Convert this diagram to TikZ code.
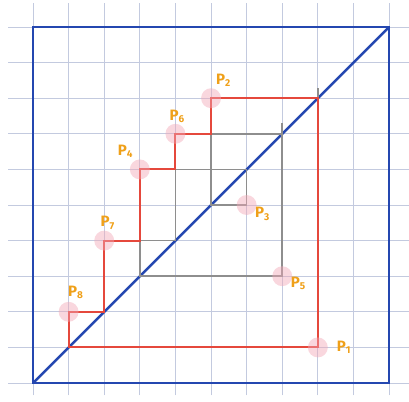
\documentclass[tikz,border=0pt]{standalone}
\usepackage{fontspec}
\setsansfont{Fira Sans}
\usepackage{tikz}
\usetikzlibrary{positioning,calc}
\definecolor{gpgrid}{HTML}{C3CADF}
\definecolor{gpblue}{HTML}{2447B0}
\definecolor{gpred}{HTML}{E5483C}
\definecolor{gpgray}{HTML}{8E8E8E}
\definecolor{gppink}{HTML}{F2A7B6}
\definecolor{gporange}{HTML}{EFA019}

\begin{document}
\begin{tikzpicture}[
  x=1cm, y=1cm,
  gridline/.style={draw=gpgrid, line width=0.7pt},
  frame/.style={draw=gpblue, line width=2pt},
  redpath/.style={draw=gpred, line width=1.5pt, line join=miter},
  graypath/.style={draw=gpgray, line width=1.2pt},
  pt/.style={circle, minimum size=5.4mm, inner sep=0pt},
  ptlabel/.style={font=\sffamily\bfseries\large, text=gporange, inner sep=0pt},
  ]
  \useasboundingbox (-0.927,-0.506) rectangle (10.56,10.758);

  % squared paper
  \foreach \i in {0,...,10} {
    \draw[gridline] (\i,-0.35) -- (\i,10.68);
    \draw[gridline] (-0.7,\i) -- (10.56,\i);
  }

  % square and diagonal
  \draw[frame] (0,0) rectangle (10,10);
  \draw[frame] (0,0) coordinate (d0) -- (10,10) coordinate (d10);

  % the points
  \node[pt] (p1) at (8,1) {};
  \node[pt] (p2) at (5,8) {};
  \node[pt] (p3) at (6,5) {};
  \node[pt] (p4) at (3,6) {};
  \node[pt] (p5) at (7,3) {};
  \node[pt] (p6) at (4,7) {};
  \node[pt] (p7) at (2,4) {};
  \node[pt] (p8) at (1,2) {};

  % inner staircase (gray)
  \draw[graypath] (3,3) -- (p5.center) -- (7,7) -- (5,7) -- (5,5) -- (p3.center)
    -- (6,6) -- (4,6) -- (4,4) -- (3,4) -- cycle;
  \draw[graypath] (7,7) -- (7,7.3);
  \draw[graypath] (8,8) -- (8,8.3);

  % outer staircase (red)
  \draw[redpath] (1,1) -- (p1.center) -- (8,8) -- (p2.center) -- (5,7) -- (p6.center)
    -- (4,6) -- (p4.center) -- (3,4) -- (p7.center) -- (2,2) -- (p8.center) -- cycle;

  % pink dots on top
  \foreach \p in {p1,p2,p3,p4,p5,p6,p7,p8}
    \fill[gppink, opacity=0.45] (\p) circle (0.28);

  % labels
  \node[ptlabel, right=2.5mm of p1] (l1) {P\textsubscript{1}};
  \node[ptlabel] (l2) at ($(p2)+(0.35,0.5)$) {P\textsubscript{2}};
  \node[ptlabel] (l3) at ($(p3)+(0.45,-0.25)$) {P\textsubscript{3}};
  \node[ptlabel] (l4) at ($(p4)+(-0.4,0.5)$) {P\textsubscript{4}};
  \node[ptlabel] (l5) at ($(p5)+(0.45,-0.2)$) {P\textsubscript{5}};
  \node[ptlabel] (l6) at ($(p6)+(0.05,0.48)$) {P\textsubscript{6}};
  \node[ptlabel] (l7) at ($(p7)+(0.1,0.5)$) {P\textsubscript{7}};
  \node[ptlabel] (l8) at ($(p8)+(0.2,0.55)$) {P\textsubscript{8}};
\end{tikzpicture}
\end{document}
